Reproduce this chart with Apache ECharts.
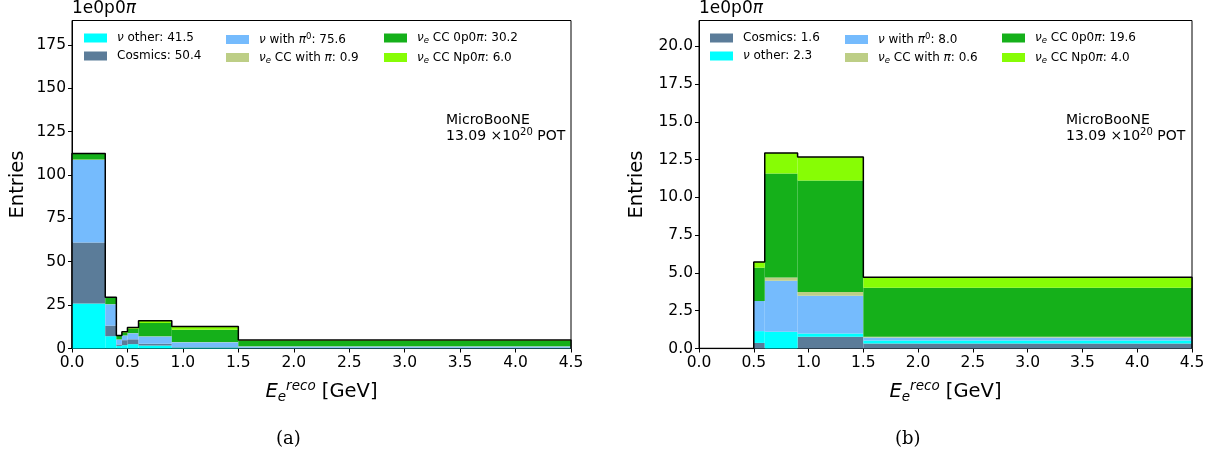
<!DOCTYPE html>
<html>
<head>
<meta charset="utf-8">
<script src="https://cdn.jsdelivr.net/npm/echarts@6/dist/echarts.min.js"></script>
<style>
  html, body { margin: 0; padding: 0; background: #fff; }
  #main { width: 1212px; height: 459px; }
</style>
</head>
<body>
<div id="main"></div>
<script>
  // bin edges in GeV (same for both panels)
  var binEdges = [0, 0.3, 0.4, 0.45, 0.5, 0.6, 0.9, 1.5, 4.5];
  var xTicks = [0, 0.5, 1, 1.5, 2, 2.5, 3, 3.5, 4, 4.5];
  var yTicksA = [0, 25, 50, 75, 100, 125, 150, 175];
  var yTicksB = [0, 2.5, 5, 7.5, 10, 12.5, 15, 17.5, 20];

  // panel (a): entries per bin, stack order bottom -> top
  var aNuOther  = [26.0, 7.1, 1.5, 1.9, 2.5, 1.7, 0.6, 0.2];
  var aCosmics  = [35.1, 6.1, 0.8, 2.9, 2.8, 1.0, 0.3, 0.2];
  var aNuPi0    = [47.5, 12.3, 2.9, 2.7, 3.5, 4.2, 2.7, 0.8];
  var aNueCCPi  = [0.3, 0.1, 0.05, 0.05, 0.1, 0.1, 0.15, 0.1];
  var aNue0p0pi = [3.2, 3.5, 2.0, 1.5, 2.5, 7.7, 7.0, 3.1];
  var aNueNp0pi = [0.3, 0.4, 0.2, 0.6, 0.7, 1.3, 1.9, 0.5];
  var aTotals   = [41.5, 50.4, 75.6, 0.9, 30.2, 6.0];

  // panel (b)
  var bCosmics  = [0, 0, 0, 0, 0.37, 0, 0.77, 0.33];
  var bNuOther  = [0, 0, 0, 0, 0.78, 1.1, 0.23, 0.2];
  var bNuPi0    = [0, 0, 0, 0, 1.99, 3.39, 2.49, 0.2];
  var bNueCCPi  = [0, 0, 0, 0, 0, 0.2, 0.25, 0.04];
  var bNue0p0pi = [0, 0, 0, 0, 2.21, 6.88, 7.38, 3.25];
  var bNueNp0pi = [0, 0, 0, 0, 0.38, 1.37, 1.55, 0.69];
  var bTotals   = [1.6, 2.3, 8.0, 0.6, 19.6, 4.0];

  var colors = {
    'ν other': '#00FFFF',
    'Cosmics': '#5B7C99',
    'ν with π0': '#75BBFD',
    'νe CC with π': '#BDCE86',
    'νe CC 0p0π': '#15B01A',
    'νe CC Np0π': '#87FD05'
  };

  // rich labels for the legend
  var richLabel = {
    'ν other': '{i|ν} other',
    'Cosmics': 'Cosmics',
    'ν with π0': '{i|ν} with {i|π}{sup|0}',
    'νe CC with π': '{i|ν}{sub|e} CC with {i|π}',
    'νe CC 0p0π': '{i|ν}{sub|e} CC 0p0{i|π}',
    'νe CC Np0π': '{i|ν}{sub|e} CC Np0{i|π}'
  };

  var rich = {
    i: { fontStyle: 'italic', fontSize: 12, fontFamily: 'DejaVu Sans' },
    sub: { fontStyle: 'italic', fontSize: 8.5, padding: [6, 0, 0, 0], fontFamily: 'DejaVu Sans' },
    sup: { fontSize: 8.5, padding: [0, 0, 6, 0], fontFamily: 'DejaVu Sans' }
  };

  function renderBar(params, api) {
    var p0 = api.coord([api.value(0), api.value(3)]);
    var p1 = api.coord([api.value(1), api.value(2)]);
    return {
      type: 'rect',
      shape: { x: p0[0], y: p0[1], width: p1[0] - p0[0], height: p1[1] - p0[1] },
      style: { fill: api.visual('color') }
    };
  }

  function stackSeries(layers, idx) {
    var base = binEdges.slice(0, -1).map(function () { return 0; });
    var out = [];
    layers.forEach(function (l) {
      var data = l.values.map(function (v, i) {
        var d = [binEdges[i], binEdges[i + 1], base[i], base[i] + v];
        base[i] += v;
        return d;
      });
      out.push({
        name: l.name,
        type: 'custom',
        xAxisIndex: idx,
        yAxisIndex: idx,
        renderItem: renderBar,
        itemStyle: { color: colors[l.name] },
        encode: { x: [0, 1], y: [2, 3] },
        data: data,
        silent: true
      });
    });
    // black outline of the total
    var line = [[0, 0]];
    base.forEach(function (t, i) { line.push([binEdges[i], t]); });
    line.push([binEdges[binEdges.length - 1], base[base.length - 1]]);
    line.push([binEdges[binEdges.length - 1], 0]);
    out.push({
      type: 'line',
      xAxisIndex: idx,
      yAxisIndex: idx,
      step: 'end',
      symbol: 'none',
      lineStyle: { color: '#000', width: 1.5 },
      data: line,
      silent: true,
      z: 5
    });
    return out;
  }

  var layersA = [
    { name: 'ν other', values: aNuOther },
    { name: 'Cosmics', values: aCosmics },
    { name: 'ν with π0', values: aNuPi0 },
    { name: 'νe CC with π', values: aNueCCPi },
    { name: 'νe CC 0p0π', values: aNue0p0pi },
    { name: 'νe CC Np0π', values: aNueNp0pi }
  ];
  var layersB = [
    { name: 'Cosmics', values: bCosmics },
    { name: 'ν other', values: bNuOther },
    { name: 'ν with π0', values: bNuPi0 },
    { name: 'νe CC with π', values: bNueCCPi },
    { name: 'νe CC 0p0π', values: bNue0p0pi },
    { name: 'νe CC Np0π', values: bNueNp0pi }
  ];

  function makeLegends(layers, totals, lefts) {
    var res = [];
    for (var c = 0; c < 3; c++) {
      var names = [layers[c * 2].name, layers[c * 2 + 1].name];
      res.push({
        orient: 'vertical',
        left: lefts[c],
        top: 32,
        padding: 0,
        itemWidth: 23,
        itemHeight: 9,
        itemGap: 6,
        selectedMode: false,
        icon: 'rect',
        data: names,
        formatter: (function (ls, ts) {
          return function (name) {
            for (var k = 0; k < ls.length; k++) {
              if (ls[k].name === name) return richLabel[name] + ': ' + ts[k].toFixed(1);
            }
            return name;
          };
        })(layers, totals),
        textStyle: { fontFamily: 'DejaVu Sans', fontSize: 12, color: '#000', rich: rich, padding: [0, 0, 0, 5] }
      });
    }
    return res;
  }

  function xAxisOpt(idx) {
    return {
      type: 'value', gridIndex: idx, min: 0, max: 4.5, interval: 0.5,
      name: '{e|E}{s|e}{r|reco} [GeV]',
      nameLocation: 'middle', nameGap: 31,
      nameTextStyle: {
        fontFamily: 'DejaVu Sans', fontSize: 19.5, color: '#000',
        rich: {
          e: { fontStyle: 'italic', fontSize: 19.5, fontFamily: 'DejaVu Sans' },
          s: { fontStyle: 'italic', fontSize: 13.5, padding: [11, 0, 0, 0], fontFamily: 'DejaVu Sans' },
          r: { fontStyle: 'italic', fontSize: 13.5, padding: [0, 0, 11, 0], fontFamily: 'DejaVu Sans' }
        }
      },
      axisLine: { onZero: false, lineStyle: { color: '#000', width: 1 } },
      axisTick: { inside: false, length: 4, lineStyle: { color: '#000' }, customValues: xTicks },
      axisLabel: {
        color: '#000', fontFamily: 'DejaVu Sans', fontSize: 15.5, margin: 6,
        customValues: xTicks,
        formatter: function (v) { return v.toFixed(1); }
      },
      splitLine: { show: false }
    };
  }

  function yAxisOpt(idx, max, ticks, dec, gap) {
    return {
      type: 'value', gridIndex: idx, min: 0, max: max,
      name: 'Entries', nameLocation: 'middle', nameRotate: 90, nameGap: gap,
      nameTextStyle: { fontFamily: 'DejaVu Sans', fontSize: 19.5, color: '#000' },
      axisLine: { onZero: false, lineStyle: { color: '#000', width: 1 } },
      axisTick: { inside: false, length: 4, lineStyle: { color: '#000' }, customValues: ticks },
      axisLabel: {
        color: '#000', fontFamily: 'DejaVu Sans', fontSize: 15.5, margin: 6,
        customValues: ticks,
        formatter: function (v) { return v.toFixed(dec); }
      },
      splitLine: { show: false }
    };
  }

  function potText(x) {
    return {
      type: 'text', left: x, top: 112,
      style: {
        text: 'MicroBooNE\n13.09 ×10{p|20} POT',
        fontFamily: 'DejaVu Sans', fontSize: 14, lineHeight: 16, fill: '#000',
        rich: { p: { fontSize: 10, padding: [0, 0, 7, 0], fontFamily: 'DejaVu Sans' } }
      }
    };
  }

  function titleText(x) {
    return {
      type: 'text', left: x, top: 0,
      style: {
        text: '1e0p0{i|π}', fontFamily: 'DejaVu Sans', fontSize: 17, fill: '#000',
        rich: { i: { fontStyle: 'italic', fontSize: 17, fontFamily: 'DejaVu Sans' } }
      }
    };
  }

  var chart = echarts.init(document.getElementById('main'), null, { renderer: 'canvas' });
  chart.setOption({
    animation: false,
    backgroundColor: '#fff',
    grid: [
      { left: 72, right: 641, top: 20.5, bottom: 110.5, show: true, borderColor: '#000', borderWidth: 1, backgroundColor: 'transparent' },
      { left: 699, right: 20, top: 20.5, bottom: 110.5, show: true, borderColor: '#000', borderWidth: 1, backgroundColor: 'transparent' }
    ],
    xAxis: [xAxisOpt(0), xAxisOpt(1)],
    yAxis: [yAxisOpt(0, 189, yTicksA, 0, 44), yAxisOpt(1, 21.7, yTicksB, 1, 52)],
    legend: makeLegends(layersA, aTotals, [84, 226, 384]).concat(makeLegends(layersB, bTotals, [710, 845, 1002])),
    series: stackSeries(layersA, 0).concat(stackSeries(layersB, 1)),
    graphic: [
      titleText(72),
      titleText(699),
      potText(446),
      potText(1066),
      { type: 'text', left: 276, top: 430, style: { text: '(a)', fontFamily: 'DejaVu Serif', fontSize: 18, fill: '#000' } },
      { type: 'text', left: 895, top: 430, style: { text: '(b)', fontFamily: 'DejaVu Serif', fontSize: 18, fill: '#000' } }
    ]
  });
</script>
</body>
</html>
